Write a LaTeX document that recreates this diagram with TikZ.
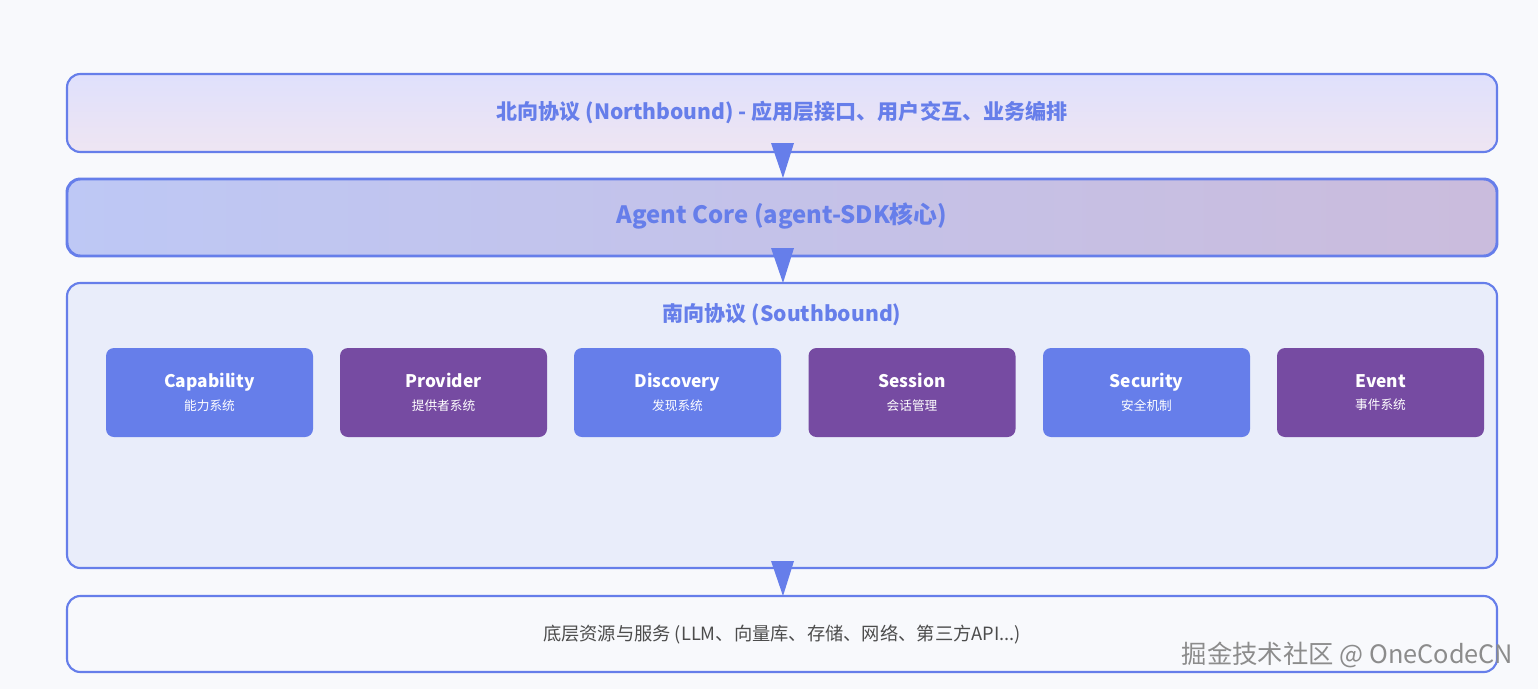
\documentclass[tikz,border=0pt]{standalone}
\usepackage{fontspec}
\setmainfont{Noto Sans CJK SC}
\begin{document}
\begin{tikzpicture}[x=0.75pt,y=-0.75pt]
\definecolor{bl}{HTML}{667EEA}
\definecolor{pu}{HTML}{764BA2}
\definecolor{bg}{HTML}{F8F9FC}
\tikzset{
 layer/.style={draw=bl,line width=1.6pt,rounded corners=10pt},
 comp/.style={rounded corners=6pt,minimum width=207*0.75pt,minimum height=89*0.75pt,text=white,align=center},
 tri/.style={fill=bl,draw=none},
}
\fill[bg] (0,0) rectangle (1538,689);
\path[layer,top color=blue!10!bg,bottom color=violet!8!bg] (67,74) rectangle (1497,152);
\node (nb) at (782,113) {\bfseries\fontsize{15.8}{18}\selectfont\color{bl}北向协议 (Northbound) - 应用层接口、用户交互、业务编排};
\path[layer,line width=2.2pt,left color=bl!40!bg,right color=pu!35!bg] (67,179) rectangle (1497,256);
\node (core) at (782,216) {\bfseries\fontsize{17.9}{20}\selectfont\color{bl}Agent Core (agent-SDK核心)};
\path[layer,fill=bl!10!bg] (67,283) rectangle (1497,568);
\node (sb) at (782,315) {\bfseries\fontsize{15.8}{18}\selectfont\color{bl}南向协议 (Southbound)};
\path[layer,fill=bg] (67,596) rectangle (1497,672);
\node (res) at (782,634) {\fontsize{13.7}{15}\selectfont\color{black!70}底层资源与服务 (LLM、向量库、存储、网络、第三方API...)};
\foreach \x/\c/\a/\b/\n in {209.5/bl/Capability/能力系统/c1, 443.5/pu/Provider/提供者系统/c2, 677.5/bl/Discovery/发现系统/c3, 912/pu/Session/会话管理/c4, 1146.5/bl/Security/安全机制/c5, 1380.5/pu/Event/事件系统/c6}
  \node[comp,fill=\c] (\n) at (\x,392.5) {{\bfseries\fontsize{13}{15}\selectfont \a}\\[5pt]{\fontsize{9.5}{12}\selectfont \b}};
\foreach \y in {143,248,561}
  \fill[tri] (771,\y) -- (794,\y) -- (783,\y+35) -- cycle;
\node[anchor=east,text=black!45] (wm) at (1518,655) {\fontsize{19}{22}\selectfont 掘金技术社区 @ OneCodeCN};
\end{tikzpicture}
\end{document}
